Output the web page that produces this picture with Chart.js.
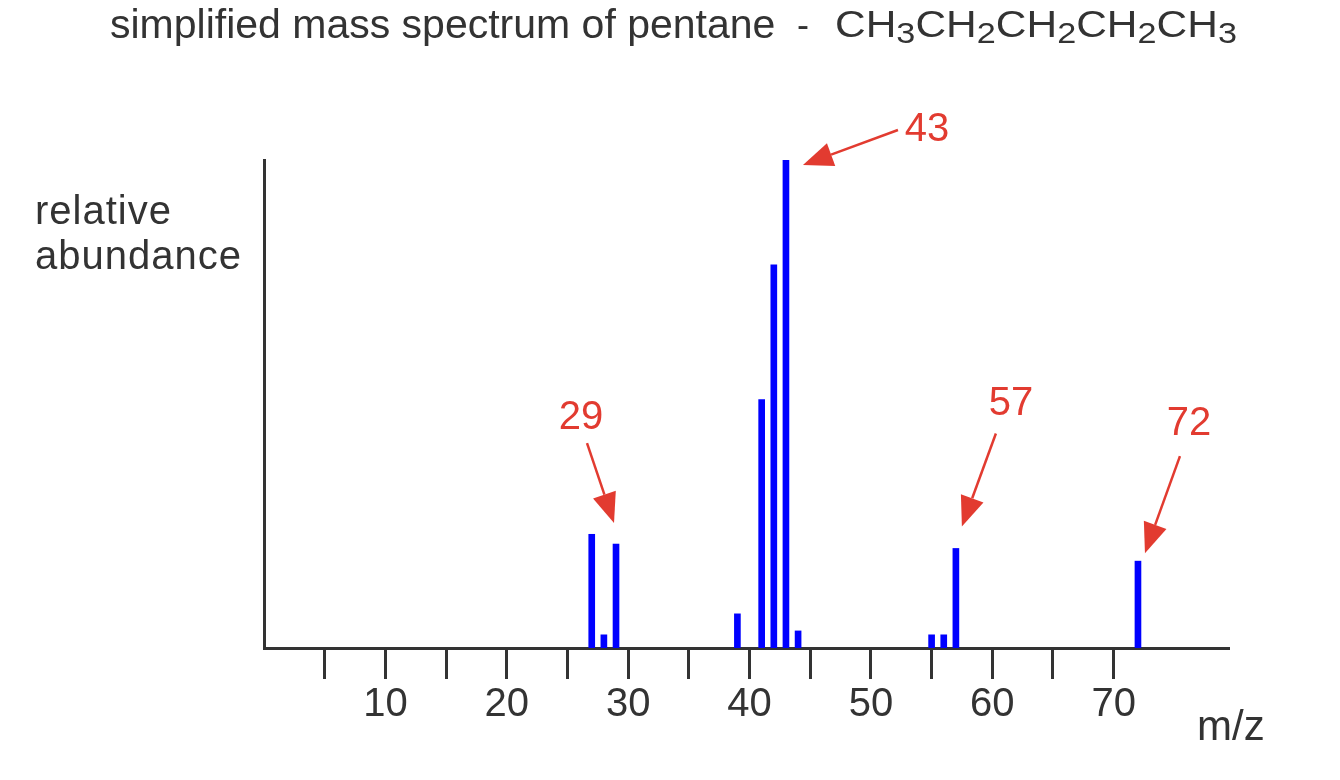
<!DOCTYPE html>
<html>
<head>
<meta charset="utf-8">
<script src="https://cdn.jsdelivr.net/npm/chart.js@4.4.1/dist/chart.umd.min.js"></script>
<style>
  html, body { margin: 0; padding: 0; background: #fff; }
  canvas { display: block; }
</style>
</head>
<body>
<canvas id="chartPentane" width="1340" height="780"></canvas>
<script>
// m/z values and relative abundance
const massToCharge = [27, 28, 29, 39, 41, 42, 43, 44, 55, 56, 57, 72];
const abundance = [23.3, 2.7, 21.3, 7.0, 50.9, 78.5, 100, 3.5, 2.7, 2.7, 20.4, 17.8];
const labelledPeaks = [29, 43, 57, 72];

const titleText = 'simplified mass spectrum of pentane';
const formulaParts = [['C', 0], ['H', 0], ['3', 1], ['C', 0], ['H', 0], ['2', 1], ['C', 0], ['H', 0], ['2', 1], ['C', 0], ['H', 0], ['2', 1], ['C', 0], ['H', 0], ['3', 1]];
const yLabelLines = ['relative', 'abundance'];
const xLabel = 'm/z';

const FONT = '"Liberation Sans", Arial, sans-serif';
const INK = '#333333';
const RED = '#e23b30';

// arrow placement per labelled peak: tip offset from bar top, tail offset from tip, label offset from tail
const arrowLayout = {
    29: { tip: [-2, -21], tail: [-27, -80], label: [-6, -25] },
    43: { tip: [17, 5], tail: [95, -35], label: [29, 0] },
    57: { tip: [6, -22], tail: [34, -93], label: [15, -29] },
    72: { tip: [7, -8], tail: [35, -97], label: [9, -32] }
};

function drawArrow(ctx, x1, y1, x2, y2) {
    const ang = Math.atan2(y2 - y1, x2 - x1);
    const headLen = 30, headHalf = 12;
    const bx = x2 - headLen * Math.cos(ang), by = y2 - headLen * Math.sin(ang);
    ctx.strokeStyle = RED;
    ctx.lineWidth = 2.5;
    ctx.beginPath();
    ctx.moveTo(x1, y1);
    ctx.lineTo(bx, by);
    ctx.stroke();
    ctx.fillStyle = RED;
    ctx.beginPath();
    ctx.moveTo(x2, y2);
    ctx.lineTo(bx + headHalf * Math.sin(ang), by - headHalf * Math.cos(ang));
    ctx.lineTo(bx - headHalf * Math.sin(ang), by + headHalf * Math.cos(ang));
    ctx.closePath();
    ctx.fill();
}

const annotations = {
    id: 'annotations',
    afterDraw(chart) {
        const ctx = chart.ctx;
        const xs = chart.scales.x, ys = chart.scales.y;
        ctx.save();

        // title
        ctx.fillStyle = INK;
        ctx.textBaseline = 'alphabetic';
        ctx.textAlign = 'left';
        ctx.font = '41px ' + FONT;
        ctx.fillText(titleText, 110, 38);
        ctx.font = '36px ' + FONT;
        ctx.fillText('-', 797, 37);
        // formula, stretched sideways like the original
        ctx.save();
        ctx.translate(835, 0);
        ctx.scale(1.18, 1);
        let fx = 0;
        formulaParts.forEach(([ch, sub]) => {
            ctx.font = (sub ? '29px ' : '36px ') + FONT;
            ctx.fillText(ch, fx, sub ? 43 : 37);
            fx += ctx.measureText(ch).width;
        });
        ctx.restore();

        // axis labels
        ctx.font = '40px ' + FONT;
        ctx.letterSpacing = '1px';
        ctx.fillText(yLabelLines[0], 35, 224);
        ctx.fillText(yLabelLines[1], 35, 269);
        ctx.letterSpacing = '0px';
        ctx.font = '42px ' + FONT;
        ctx.fillText(xLabel, 1197, 740);

        // red arrows and labels
        labelledPeaks.forEach(mz => {
            const i = massToCharge.indexOf(mz);
            const lay = arrowLayout[mz];
            const bx = xs.getPixelForValue(mz), by = ys.getPixelForValue(abundance[i]);
            const tx = bx + lay.tip[0], ty = by + lay.tip[1];
            const sx = tx + lay.tail[0], sy = ty + lay.tail[1];
            drawArrow(ctx, sx, sy, tx, ty);
            ctx.fillStyle = RED;
            ctx.font = '40px ' + FONT;
            ctx.textAlign = 'center';
            ctx.textBaseline = 'middle';
            ctx.fillText(String(mz), sx + lay.label[0], sy + lay.label[1]);
        });
        ctx.restore();
    }
};

const ctx = document.getElementById('chartPentane').getContext('2d');
const chart = new Chart(ctx, {
    type: 'bar',
    data: {
        datasets: [{
            data: massToCharge.map((m, i) => ({ x: m, y: abundance[i] })),
            backgroundColor: '#0000ff',
            borderWidth: 0,
            barThickness: 6
        }]
    },
    options: {
        responsive: false,
        animation: false,
        layout: { padding: { left: 256, right: 111, top: 160, bottom: 49 } },
        plugins: { legend: { display: false }, tooltip: { enabled: false }, title: { display: false } },
        scales: {
            x: {
                type: 'linear',
                min: 0,
                max: 79.5,
                offset: false,
                grid: { offset: false, drawOnChartArea: false, drawTicks: true, tickLength: 31, tickColor: INK, tickWidth: 3 },
                border: { display: true, color: INK, width: 3 },
                ticks: {
                    stepSize: 5,
                    padding: 2,
                    color: INK,
                    font: { family: FONT, size: 40 },
                    callback: v => (v % 10 === 0 ? v : '')
                },
                afterBuildTicks: scale => {
                    scale.ticks = scale.ticks.filter(t => t.value > 0 && t.value <= 75 && t.value % 5 === 0);
                }
            },
            y: {
                min: 0,
                max: 100,
                grid: { display: false },
                border: { display: true, color: INK, width: 3 },
                ticks: { display: false }
            }
        }
    },
    plugins: [annotations]
});
</script>
</body>
</html>
